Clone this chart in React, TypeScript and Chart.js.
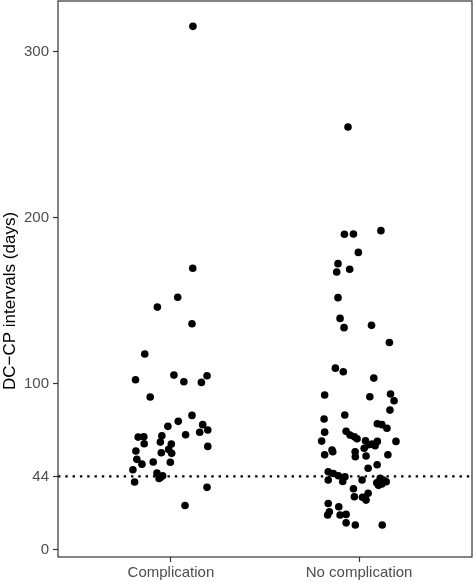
import { useEffect, useRef } from "react";
import { Chart, registerables } from "chart.js";
import type { Plugin } from "chart.js";

Chart.register(...registerables);

const categories = ["Complication", "No complication"];
const yTicks = [0, 44, 100, 200, 300];
const refLine = 44;
const yTitle = "DC\u2212CP intervals (days)";

// jittered x positions (1 = Complication, 2 = No complication) and values in days
const compX = [
  1.117, 1.116, 1.036, 0.928, 1.112, 0.861, 0.812, 1.016, 1.069, 1.162, 1.192, 0.89,
  1.112, 1.039, 0.984, 1.169, 1.153, 1.196, 1.078, 0.826, 0.856, 0.952, 0.858, 0.944,
  1.002, 1.196, 0.814, 0.988, 0.949, 1.004, 0.819, 0.846, 0.906, 0.997, 0.798, 0.807,
  0.926, 0.937, 0.956, 0.945, 1.192, 1.075,
];
const compY = [
  315.4, 169.5, 152, 146.1, 136.1, 117.8, 102.3, 105.1, 101.1, 100.7, 104.7, 91.9,
  80.8, 77.2, 74.2, 75.2, 70.6, 72.0, 69.1, 67.7, 67.9, 68.5, 63.7, 64.7,
  63.5, 62.1, 59.3, 60.3, 58.3, 57.9, 54.3, 51.4, 52.7, 52.5, 48.0, 40.6,
  46.0, 42.8, 44.4, 43.5, 37.4, 26.5,
];

const noCompX = [
  1.941, 1.922, 1.97, 2.116, 1.996, 1.888, 1.881, 1.95, 1.888, 1.899, 1.92, 2.066,
  2.161, 1.874, 1.916, 2.078, 1.817, 2.057, 2.167, 2.186, 2.164, 1.814, 1.924, 2.097,
  2.121, 2.148, 1.817, 1.931, 1.801, 2.196, 1.952, 1.975, 1.989, 2.034, 2.05, 2.027,
  2.085, 2.097, 2.069, 1.856, 1.86, 1.817, 1.979, 1.98, 2.037, 2.153, 2.096, 2.048,
  1.836, 1.863, 1.836, 1.89, 1.925, 1.913, 2.016, 2.112, 2.094, 2.121, 2.144, 2.129,
  2.103, 1.97, 1.975, 2.018, 2.037, 2.048, 1.836, 1.892, 1.842, 1.833, 1.899, 1.931,
  1.931, 1.98, 2.123,
];
const noCompY = [
  254.7, 190.0, 190.2, 192.2, 179.1, 172.3, 167.3, 168.9, 151.8, 139.3, 133.7, 135.1,
  124.8, 109.3, 107.1, 103.3, 93.1, 92.0, 93.7, 89.6, 84.0, 78.6, 81.0, 75.8,
  75.2, 73.0, 70.7, 71.2, 65.3, 65.1, 68.9, 67.9, 66.7, 65.5, 63.1, 61.0,
  62.5, 65.1, 63.5, 59.9, 58.9, 57.1, 58.9, 55.9, 56.3, 57.1, 51.0, 48.9,
  46.8, 45.8, 41.8, 44.4, 43.8, 41.0, 41.8, 42.8, 40.2, 39.4, 40.8, 41.8,
  38.6, 36.6, 31.7, 31.4, 29.7, 33.8, 27.7, 25.7, 22.7, 20.7, 20.7, 21.1,
  16.0, 14.7, 14.7,
];

const FONT = "'Liberation Sans', Arial, Helvetica, sans-serif";
const AXIS_COLOR = "#333333";

// panel border + rotated y title (ggplot centres it a bit lower than the axis)
const framePlugin: Plugin<"scatter"> = {
  id: "frame",
  afterDraw(chart) {
    const { ctx, chartArea } = chart;
    ctx.save();
    ctx.strokeStyle = AXIS_COLOR;
    ctx.lineWidth = 1.2;
    ctx.strokeRect(chartArea.left, chartArea.top, chartArea.right - chartArea.left, chartArea.bottom - chartArea.top);
    ctx.translate(15, 301);
    ctx.rotate(-Math.PI / 2);
    ctx.fillStyle = "#000000";
    ctx.font = `17px ${FONT}`;
    ctx.textAlign = "center";
    ctx.textBaseline = "alphabetic";
    ctx.fillText(yTitle, 0, 0);
    ctx.restore();
  },
};

export default function App() {
  const canvasRef = useRef<HTMLCanvasElement>(null);

  useEffect(() => {
    if (!canvasRef.current) return;
    const chart = new Chart(canvasRef.current, {
      type: "scatter",
      data: {
        datasets: [
          {
            label: categories[0],
            data: compX.map((x, i) => ({ x, y: compY[i] })),
            backgroundColor: "#000000",
            borderColor: "#000000",
            pointRadius: 3.8,
            borderWidth: 0,
          },
          {
            label: categories[1],
            data: noCompX.map((x, i) => ({ x, y: noCompY[i] })),
            backgroundColor: "#000000",
            borderColor: "#000000",
            pointRadius: 3.8,
            borderWidth: 0,
          },
          {
            type: "line",
            label: "ref",
            data: [
              { x: 0.4, y: refLine },
              { x: 2.6, y: refLine },
            ],
            borderColor: "#000000",
            borderWidth: 2.2,
            borderDash: [2.4, 4.9],
            pointRadius: 0,
            showLine: true,
          } as any,
        ],
      },
      options: {
        animation: false,
        responsive: true,
        maintainAspectRatio: false,
        layout: { padding: { top: 1, right: 2, left: 0, bottom: 0 }, autoPadding: false },
        plugins: {
          legend: { display: false },
          tooltip: { enabled: false },
        },
        scales: {
          x: {
            type: "linear",
            min: 0.4,
            max: 2.6,
            afterBuildTicks: (scale) => {
              scale.ticks = categories.map((_, i) => ({ value: i + 1 }));
            },
            afterFit: (scale: any) => {
              scale.height = 25;
              scale.paddingLeft = 0;
              scale.paddingRight = 0;
            },
            ticks: {
              autoSkip: false,
              maxRotation: 0,
              padding: 2,
              color: "#4d4d4d",
              font: { family: FONT, size: 15 },
              callback: (v) => categories[Math.round(Number(v)) - 1] ?? "",
            },
            grid: { drawOnChartArea: false, drawTicks: true, tickLength: 5, tickColor: AXIS_COLOR, tickWidth: 1.2 },
            border: { display: false },
          },
          y: {
            min: -4.6,
            max: 330.7,
            afterBuildTicks: (scale) => {
              scale.ticks = yTicks.map((v) => ({ value: v }));
            },
            afterFit: (scale: any) => {
              scale.width = 58;
              scale.paddingTop = 0;
              scale.paddingBottom = 0;
            },
            ticks: {
              autoSkip: false,
              padding: 4,
              color: "#4d4d4d",
              font: { family: FONT, size: 15 },
            },
            grid: { drawOnChartArea: false, drawTicks: true, tickLength: 5, tickColor: AXIS_COLOR, tickWidth: 1.2 },
            border: { display: false },
          },
        },
      },
      plugins: [framePlugin],
    });
    return () => chart.destroy();
  }, []);

  return (
    <div style={{ position: "fixed", left: 0, top: 0, width: 474, height: 582, background: "#ffffff" }}>
      <canvas ref={canvasRef} />
    </div>
  );
}
